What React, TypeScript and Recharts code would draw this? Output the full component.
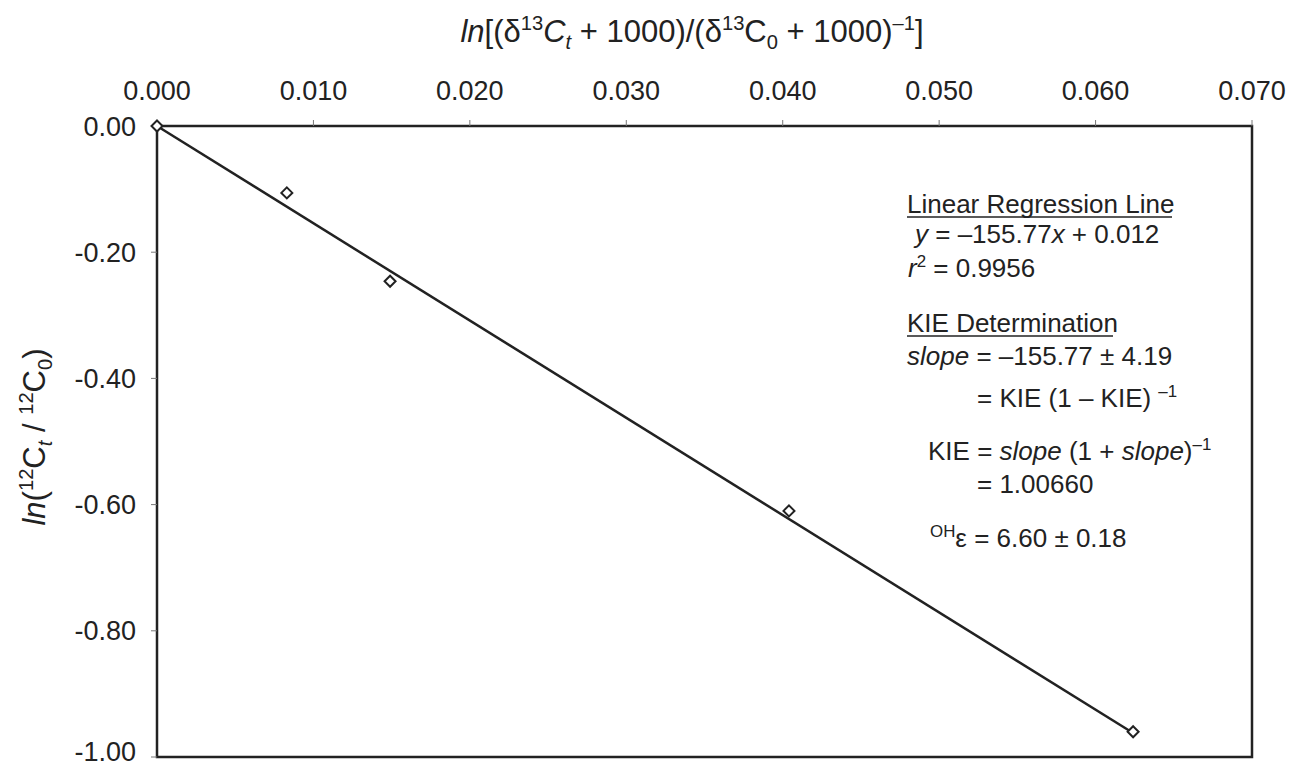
import React from "react";
import { ScatterChart, Scatter, XAxis, YAxis, ReferenceArea, Customized } from "recharts";

const xTicks = [0, 0.01, 0.02, 0.03, 0.04, 0.05, 0.06, 0.07];
const yTicks = [0, -0.2, -0.4, -0.6, -0.8, -1.0];

// measured samples
const sampleX = [0, 0.0083, 0.0149, 0.0404, 0.0624];
const sampleY = [0, -0.106, -0.246, -0.61, -0.96];

// regression line end points
const fitX = [0, 0.0624];
const fitY = [0, -0.962];

const samples = sampleX.map((x, i) => ({ x, y: sampleY[i] }));
const fit = fitX.map((x, i) => ({ x, y: fitY[i] }));

const FONT = "'Liberation Sans', Arial, sans-serif";
const INK = "#222";

const Diamond = (props: any) => {
  const { cx, cy } = props;
  if (cx == null || cy == null) return <g />;
  const r = 5.5;
  return (
    <path
      d={`M${cx},${cy - r} L${cx + r},${cy} L${cx},${cy + r} L${cx - r},${cy} Z`}
      fill="#fff"
      stroke={INK}
      strokeWidth={2}
    />
  );
};

type Seg = { t: string; s?: "sup" | "sub"; i?: boolean };

// pieces of a text line, with super/subscripts shifted by dy
const rich = (segs: Seg[], fs: number) => {
  let cur = 0;
  return segs.map((g, k) => {
    const off = g.s === "sup" ? -fs * 0.38 : g.s === "sub" ? fs * 0.22 : 0;
    const dy = off - cur;
    cur = off;
    return (
      <tspan
        key={k}
        dy={dy}
        fontSize={g.s ? fs * 0.65 : undefined}
        fontStyle={g.i ? "italic" : undefined}
      >
        {g.t}
      </tspan>
    );
  });
};

const Annotations = () => {
  const fs = 26;
  const tf = 31;
  return (
    <g fontFamily={FONT} fill={INK}>
      <text x={692} y={42} fontSize={tf} textAnchor="middle">
        {rich(
          [
            { t: "ln", i: true },
            { t: "[(δ" },
            { t: "13", s: "sup" },
            { t: "C", i: true },
            { t: "t", s: "sub", i: true },
            { t: " + 1000)/(δ" },
            { t: "13", s: "sup" },
            { t: "C" },
            { t: "0", s: "sub" },
            { t: " + 1000)" },
            { t: "–1", s: "sup" },
            { t: "]" },
          ],
          tf
        )}
      </text>
      <text x={45} y={437} fontSize={tf} textAnchor="middle" transform="rotate(-90, 45, 437)">
        {rich(
          [
            { t: "ln", i: true },
            { t: "(" },
            { t: "12", s: "sup" },
            { t: "C" },
            { t: "t", s: "sub", i: true },
            { t: " / " },
            { t: "12", s: "sup" },
            { t: "C" },
            { t: "0", s: "sub" },
            { t: ")" },
          ],
          tf
        )}
      </text>

      <g fontSize={fs}>
        <text x={907} y={213}>Linear Regression Line</text>
        <line x1={907} x2={1172} y1={217} y2={217} stroke={INK} strokeWidth={1.5} />
        <text x={915} y={243}>
          {rich([{ t: "y", i: true }, { t: " = –155.77" }, { t: "x", i: true }, { t: " + 0.012" }], fs)}
        </text>
        <text x={908} y={277}>
          {rich([{ t: "r", i: true }, { t: "2", s: "sup" }, { t: " = 0.9956" }], fs)}
        </text>
        <text x={907} y={332}>KIE Determination</text>
        <line x1={907} x2={1113} y1={336} y2={336} stroke={INK} strokeWidth={1.5} />
        <text x={907} y={365}>
          {rich([{ t: "slope", i: true }, { t: " = –155.77 ± 4.19" }], fs)}
        </text>
        <text x={977} y={407}>
          {rich([{ t: "= KIE (1 – KIE) " }, { t: "–1", s: "sup" }], fs)}
        </text>
        <text x={928} y={460}>
          {rich(
            [
              { t: "KIE = " },
              { t: "slope", i: true },
              { t: " (1 + " },
              { t: "slope", i: true },
              { t: ")" },
              { t: "–1", s: "sup" },
            ],
            fs
          )}
        </text>
        <text x={977} y={493}>= 1.00660</text>
        <text x={930} y={547}>
          {rich([{ t: "OH", s: "sup" }, { t: "ε = 6.60 ± 0.18" }], fs)}
        </text>
      </g>
    </g>
  );
};

const App: React.FC = () => {
  return (
    <div style={{ position: "absolute", left: 0, top: 0, width: 1291, height: 767, background: "#fff" }}>
      <ScatterChart width={1291} height={767} margin={{ top: 0, right: 39, bottom: 10, left: 0 }}>
        <XAxis
          type="number"
          dataKey="x"
          orientation="top"
          domain={[0, 0.07]}
          ticks={xTicks}
          height={126}
          axisLine={false}
          tickSize={6}
          tickMargin={20}
          tickLine={{ stroke: "#777" }}
          tick={{ fill: INK, fontSize: 27, fontFamily: FONT }}
          tickFormatter={(v) => Number(v).toFixed(3)}
        />
        <YAxis
          type="number"
          dataKey="y"
          domain={[-1, 0]}
          ticks={yTicks}
          width={157}
          axisLine={false}
          tickSize={6}
          tickMargin={15}
          tickLine={{ stroke: "#777" }}
          tick={{ fill: INK, fontSize: 27, fontFamily: FONT }}
          tickFormatter={(v) => (Math.abs(Number(v)) < 1e-9 ? "0.00" : Number(v).toFixed(2))}
        />
        <ReferenceArea x1={0} x2={0.07} y1={-1} y2={0} fill="none" stroke={INK} strokeWidth={2.5} />
        <Scatter
          data={fit}
          line={{ stroke: INK, strokeWidth: 2.5 }}
          shape={() => <g />}
          isAnimationActive={false}
        />
        <Scatter data={samples} shape={Diamond} isAnimationActive={false} />
        <Customized component={Annotations} />
      </ScatterChart>
    </div>
  );
};

export default App;
